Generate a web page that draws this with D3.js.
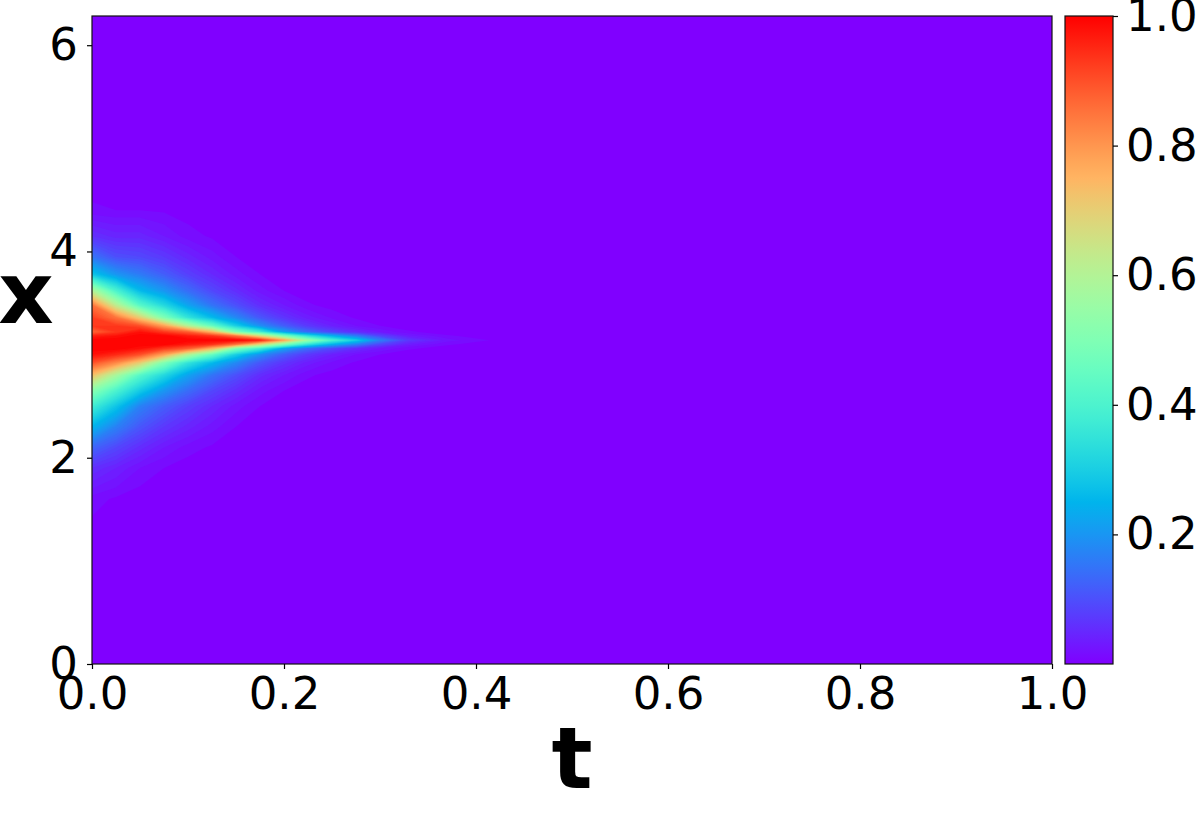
<!DOCTYPE html>
<html><head><meta charset="utf-8">
<script src="https://cdn.jsdelivr.net/npm/d3@7"></script>
<style>body{margin:0;background:#fff} svg{display:block}</style></head>
<body>
<svg id="c" width="1196" height="820"></svg>
<script>
// ---- data (u(x,t) samples on a non-uniform grid) ----
const tSamples = [0,0.025,0.05,0.075,0.1,0.125,0.15,0.175,0.2,0.225,0.25,0.275,0.3,0.33,0.37,0.42,0.5,1.0];
const xSamples = [0,1.2,1.6,1.9,2.1,2.3,2.5,2.65,2.8,2.92,3.0,3.06,3.1,3.14,3.18,3.22,3.28,3.36,3.48,3.62,3.78,3.95,4.15,4.4,4.8,6.283];
// rows follow xSamples, columns follow tSamples
const uValues = [
[0,0,0,0,0,0,0,0,0,0,0,0,0,0,0,0,0,0],
[0.003,0.001,0,0,0,0,0,0,0,0,0,0,0,0,0,0,0,0],
[0.015,0.008,0.003,0.001,0,0,0,0,0,0,0,0,0,0,0,0,0,0],
[0.06,0.04,0.02,0.01,0.004,0.002,0,0,0,0,0,0,0,0,0,0,0,0],
[0.13,0.09,0.055,0.03,0.015,0.008,0.003,0.001,0,0,0,0,0,0,0,0,0,0],
[0.25,0.17,0.11,0.07,0.045,0.025,0.01,0.004,0.001,0,0,0,0,0,0,0,0,0],
[0.38,0.28,0.17,0.12,0.08,0.05,0.025,0.01,0.003,0.001,0,0,0,0,0,0,0,0],
[0.52,0.4,0.29,0.2,0.14,0.09,0.055,0.025,0.01,0.003,0.001,0,0,0,0,0,0,0],
[0.73,0.58,0.42,0.32,0.22,0.15,0.1,0.055,0.03,0.012,0.005,0.002,0,0,0,0,0,0],
[0.9,0.82,0.7,0.5,0.35,0.26,0.18,0.11,0.065,0.035,0.018,0.008,0.003,0.001,0,0,0,0],
[0.98,0.95,0.9,0.78,0.6,0.45,0.3,0.19,0.12,0.07,0.04,0.02,0.01,0.003,0.001,0,0,0],
[1.0,1.0,0.98,0.93,0.88,0.75,0.5,0.38,0.22,0.14,0.09,0.055,0.03,0.012,0.004,0.001,0,0],
[1.0,1.0,1.0,1.0,0.97,0.94,0.85,0.68,0.5,0.35,0.25,0.17,0.09,0.035,0.012,0.003,0,0],
[1.0,1.0,1.0,1.0,1.0,1.0,1.0,0.96,0.78,0.55,0.4,0.3,0.17,0.07,0.025,0.008,0,0],
[0.96,0.98,1.0,1.0,0.97,0.94,0.85,0.68,0.5,0.35,0.25,0.17,0.09,0.035,0.012,0.003,0,0],
[0.87,0.93,0.98,0.93,0.88,0.75,0.5,0.38,0.22,0.14,0.09,0.055,0.03,0.012,0.004,0.001,0,0],
[0.93,0.93,0.9,0.78,0.6,0.45,0.3,0.19,0.12,0.07,0.04,0.02,0.01,0.003,0.001,0,0,0],
[0.92,0.85,0.7,0.5,0.35,0.26,0.18,0.11,0.065,0.035,0.018,0.008,0.003,0.001,0,0,0,0],
[0.85,0.62,0.42,0.32,0.22,0.15,0.1,0.055,0.03,0.012,0.005,0.002,0,0,0,0,0,0],
[0.6,0.4,0.26,0.2,0.14,0.09,0.055,0.025,0.01,0.003,0.001,0,0,0,0,0,0,0],
[0.28,0.2,0.16,0.12,0.08,0.05,0.025,0.01,0.003,0.001,0,0,0,0,0,0,0,0],
[0.15,0.1,0.09,0.07,0.045,0.025,0.01,0.004,0.001,0,0,0,0,0,0,0,0,0],
[0.06,0.045,0.045,0.03,0.015,0.008,0.003,0.001,0,0,0,0,0,0,0,0,0,0],
[0.012,0.01,0.01,0.008,0.004,0.002,0,0,0,0,0,0,0,0,0,0,0,0],
[0.002,0.001,0.001,0,0,0,0,0,0,0,0,0,0,0,0,0,0,0],
[0,0,0,0,0,0,0,0,0,0,0,0,0,0,0,0,0,0]
];
const tTicks = [0,0.2,0.4,0.6,0.8,1.0];
const xTicks = [0,2,4,6];
const cbTicks = [0.2,0.4,0.6,0.8,1.0];

// ---- layout ----
const plot = {left:92, right:1052, top:16, bottom:664};
const cb = {left:1065, right:1113, top:16, bottom:664};
const FONT = "'DejaVu Sans', sans-serif";

const tScale = d3.scaleLinear().domain([0,1]).range([plot.left, plot.right]);
const xScale = d3.scaleLinear().domain([0, 2*Math.PI]).range([plot.bottom, plot.top]);
const cScale = d3.scaleLinear().domain([0,1]).range([cb.bottom, cb.top]);

// matplotlib "rainbow" colormap
function rainbow(v){
  v = Math.max(0, Math.min(1, v));
  const r = Math.min(1, Math.abs(2*v - 0.5)), g = Math.sin(Math.PI*v), b = Math.cos(Math.PI*v/2);
  return d3.rgb(r*255, g*255, b*255).formatHex();
}

const svg = d3.select('#c');
const defs = svg.append('defs');
defs.append('clipPath').attr('id','clip').append('rect')
  .attr('x',plot.left).attr('y',plot.top)
  .attr('width',plot.right-plot.left).attr('height',plot.bottom-plot.top);

// heat field
const field = svg.append('g').attr('clip-path','url(#clip)');
field.append('rect').attr('x',plot.left).attr('y',plot.top)
  .attr('width',plot.right-plot.left).attr('height',plot.bottom-plot.top)
  .attr('fill', rainbow(0));

const nT = tSamples.length, nX = xSamples.length;
const flat = [];
for (let j=0;j<nX;j++) for (let i=0;i<nT;i++) flat.push(uValues[j][i]);
const tIdx = d3.scaleLinear().domain(d3.range(nT)).range(tSamples).clamp(true);
const xIdx = d3.scaleLinear().domain(d3.range(nX)).range(xSamples).clamp(true);
const proj = d3.geoTransform({point(gx, gy){
  this.stream.point(tScale(tIdx(gx-0.5)), xScale(xIdx(gy-0.5)));
}});
const path = d3.geoPath(proj);
const step = 0.01;
const levels = d3.range(0.01, 1.0, step);
const contours = d3.contours().size([nT, nX]).thresholds(levels)(flat);
field.selectAll('path').data(contours).join('path')
  .attr('d', path).attr('fill', d => rainbow(d.value + step/2)).attr('stroke','none');

// spines
svg.append('rect').attr('x',plot.left).attr('y',plot.top)
  .attr('width',plot.right-plot.left).attr('height',plot.bottom-plot.top)
  .attr('fill','none').attr('stroke','#111').attr('stroke-width',1.2);

// axes
const xAxis = svg.append('g').attr('transform',`translate(0,${plot.bottom})`)
  .call(d3.axisBottom(tScale).tickValues(tTicks).tickFormat(d3.format('.1f')).tickSize(5).tickPadding(8));
const yAxis = svg.append('g').attr('transform',`translate(${plot.left},0)`)
  .call(d3.axisLeft(xScale).tickValues(xTicks).tickFormat(d3.format('d')).tickSize(5).tickPadding(9));
[xAxis, yAxis].forEach(a => {
  a.select('.domain').remove();
  a.selectAll('text').attr('font-family',FONT).attr('font-size',45).attr('fill','#000');
  a.selectAll('line').attr('stroke','#000').attr('stroke-width',1.2);
});

// colorbar
const grad = defs.append('linearGradient').attr('id','cbgrad')
  .attr('x1',0).attr('y1',1).attr('x2',0).attr('y2',0);
d3.range(0, 1.0001, 0.025).forEach(v => grad.append('stop').attr('offset', v).attr('stop-color', rainbow(v)));
svg.append('rect').attr('x',cb.left).attr('y',cb.top)
  .attr('width',cb.right-cb.left).attr('height',cb.bottom-cb.top)
  .attr('fill','url(#cbgrad)').attr('stroke','#111').attr('stroke-width',1.2);
const cAxis = svg.append('g').attr('transform',`translate(${cb.right},0)`)
  .call(d3.axisRight(cScale).tickValues(cbTicks).tickFormat(d3.format('.1f')).tickSize(5).tickPadding(8));
cAxis.select('.domain').remove();
cAxis.selectAll('text').attr('font-family',FONT).attr('font-size',45).attr('fill','#000');
cAxis.selectAll('line').attr('stroke','#000').attr('stroke-width',1.2);

// axis labels
svg.append('text').attr('x',(plot.left+plot.right)/2).attr('y',788)
  .attr('text-anchor','middle').attr('font-family',FONT).attr('font-weight','bold')
  .attr('font-size',86).text('t');
svg.append('text').attr('x',26).attr('y',323)
  .attr('text-anchor','middle').attr('font-family',FONT).attr('font-weight','bold')
  .attr('font-size',86).text('x');
</script>
</body></html>
